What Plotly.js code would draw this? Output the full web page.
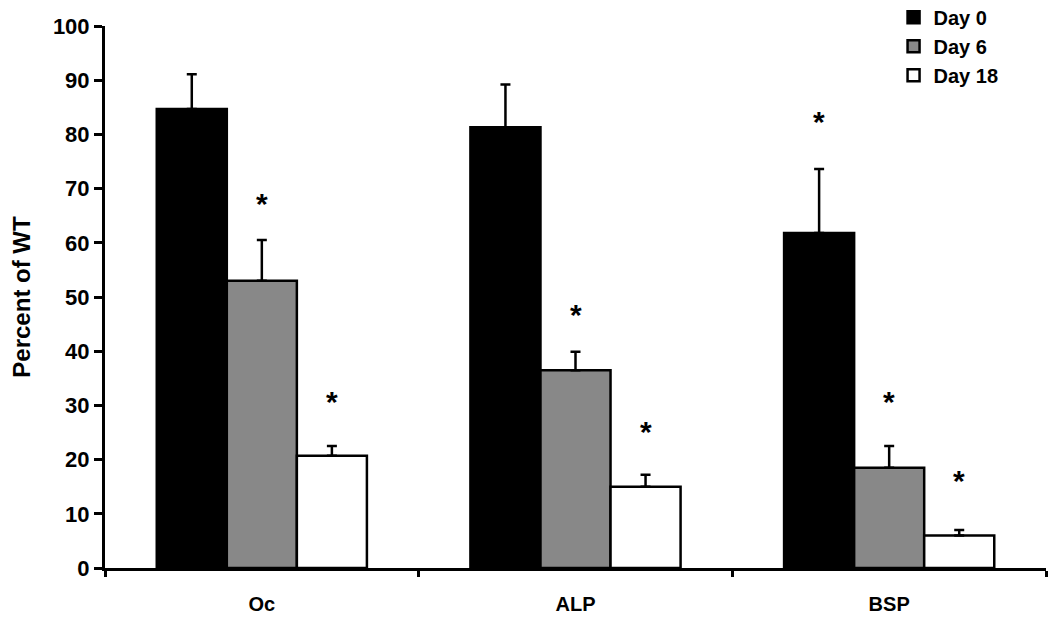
<!DOCTYPE html>
<html>
<head>
<meta charset="utf-8">
<script src="https://cdn.plot.ly/plotly-3.0.1.min.js"></script>
<style>html,body{margin:0;padding:0;background:#fff;}#chart{width:1050px;height:630px;}</style>
</head>
<body>
<div id="chart"></div>
<script>
const categories = ["Oc", "ALP", "BSP"];
const seriesNames = ["Day 0", "Day 6", "Day 18"];
const day0 = [84.7, 81.3, 61.8];
const day6 = [53.0, 36.5, 18.5];
const day18 = [20.7, 15.0, 6.0];
const err0 = [6.4, 7.9, 11.8];
const err6 = [7.5, 3.4, 4.0];
const err18 = [1.8, 2.2, 1.0];
// asterisk y-positions (null = no asterisk)
const star0 = [null, null, 82.7];
const star6 = [67.7, 47.2, 31.0];
const star18 = [31.0, 25.5, 16.6];

const FONT = "Arial, 'Liberation Sans', sans-serif";
const fills = ["#000000", "#888888", "#ffffff"];
const values = [day0, day6, day18];
const errs = [err0, err6, err18];
const stars = [star0, star6, star18];

const bargap = 0.33;
const barW = (1 - bargap) / 3;

const traces = values.map((v, j) => ({
  type: "bar",
  name: seriesNames[j],
  x: categories,
  y: v,
  marker: {color: fills[j], line: {color: "#000", width: 2.5}},
  error_y: {type: "data", symmetric: false, array: errs[j], arrayminus: errs[j].map(() => 0),
            color: "#000", thickness: 2.5, width: 5},
  hoverinfo: "skip"
}));

const annotations = [];
stars.forEach((arr, j) => {
  arr.forEach((s, i) => {
    if (s !== null) {
      annotations.push({
        x: i + (j - 1) * barW, y: s, xref: "x", yref: "y", yshift: -2,
        text: "<b>*</b>", showarrow: false,
        font: {family: FONT, size: 30, color: "#000"}
      });
    }
  });
});

const layout = {
  width: 1050, height: 630,
  margin: {l: 105, r: 4, t: 26, b: 62, autoexpand: false},
  paper_bgcolor: "#fff", plot_bgcolor: "#fff",
  barmode: "group", bargap: bargap, bargroupgap: 0,
  showlegend: true,
  legend: {x: 0.838, y: 1.052, xanchor: "left", yanchor: "top",
           font: {family: FONT, size: 20, color: "#000", weight: "bold"},
           bgcolor: "rgba(0,0,0,0)", tracegroupgap: 5, itemwidth: 30},
  xaxis: {
    type: "category", range: [-0.5, 2.5], automargin: false,
    showline: true, linecolor: "#000", linewidth: 3,
    ticks: "outside", tickson: "boundaries", ticklen: 6, tickwidth: 3, tickcolor: "#000",
    tickfont: {family: FONT, size: 20, color: "#000", weight: "bold"},
    ticklabelstandoff: 16,
    showgrid: false, zeroline: false, fixedrange: true
  },
  yaxis: {
    range: [0, 100], dtick: 10, automargin: false,
    showline: true, linecolor: "#000", linewidth: 3,
    ticks: "outside", ticklen: 8, tickwidth: 3, tickcolor: "#000",
    tickfont: {family: FONT, size: 22, color: "#000", weight: "bold"},
    title: {text: "Percent of WT", font: {family: FONT, size: 24, color: "#000", weight: "bold"}, standoff: 16},
    showgrid: false, zeroline: false, fixedrange: true
  },
  annotations: annotations
};

Plotly.newPlot("chart", traces, layout, {displayModeBar: false, staticPlot: true});
</script>
</body>
</html>
